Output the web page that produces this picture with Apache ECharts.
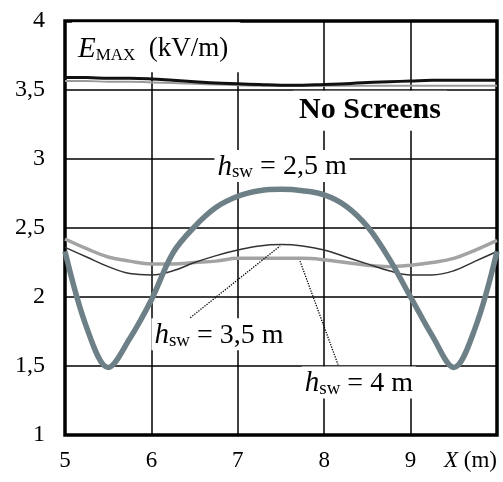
<!DOCTYPE html>
<html><head><meta charset="utf-8">
<script src="https://cdn.jsdelivr.net/npm/echarts@6/dist/echarts.min.js"></script>
<style>html,body{margin:0;padding:0;background:#fff}#c{width:503px;height:482px}</style>
</head><body><div id="c"></div>
<script>
const xs = [5,5.25,5.5,5.75,6,6.25,6.5,6.75,7,7.25,7.5,7.75,8,8.25,8.5,8.75,9,9.25,9.5,9.75,10];
const noScreensBlack = [3.59,3.59,3.585,3.585,3.58,3.57,3.56,3.55,3.545,3.54,3.535,3.535,3.54,3.545,3.555,3.56,3.565,3.57,3.57,3.57,3.57];
const noScreensGray = [3.565,3.565,3.56,3.56,3.555,3.55,3.545,3.54,3.535,3.53,3.53,3.53,3.53,3.53,3.53,3.53,3.53,3.53,3.53,3.53,3.53];
const hsw25 = [2.33,1.78,1.49,1.70,1.98,2.32,2.51,2.65,2.73,2.77,2.78,2.77,2.74,2.66,2.51,2.28,2.0,1.72,1.49,1.78,2.33];
const hsw35 = [2.36,2.29,2.22,2.17,2.16,2.19,2.25,2.30,2.34,2.37,2.38,2.37,2.34,2.29,2.24,2.19,2.16,2.16,2.19,2.26,2.33];
const hsw4  = [2.42,2.35,2.29,2.26,2.24,2.24,2.25,2.26,2.28,2.28,2.28,2.28,2.27,2.25,2.23,2.22,2.23,2.25,2.28,2.34,2.41];
const xTickLabels = ['5','6','7','8','9','{i|X} (m)'];
const pointer35 = [[6.45,1.85],[7.49,2.37]];
const pointer4 = [[7.72,2.26],[8.16,1.51]];

const SERIF = '"Liberation Serif", "Times New Roman", serif';
const pair = (ys) => xs.map((x, i) => [x, ys[i]]);

const chart = echarts.init(document.getElementById('c'), null, {renderer: 'canvas'});
const option = {
  animation: false,
  backgroundColor: '#fff',
  grid: {left: 65, right: 6, top: 21, bottom: 47, show: true, borderColor: '#000', borderWidth: 3.5, backgroundColor: 'transparent'},
  xAxis: {
    type: 'value', min: 5, max: 10, interval: 1,
    axisLine: {show: false}, axisTick: {show: false},
    splitLine: {show: true, lineStyle: {color: '#000', width: 1.5}},
    axisLabel: {
      color: '#000', fontFamily: SERIF, fontSize: 23, margin: 14,
      alignMaxLabel: 'right',
      formatter: (v) => xTickLabels[Math.round(v) - 5],
      rich: {i: {fontStyle: 'italic', fontFamily: SERIF, fontSize: 23, color: '#000'}}
    }
  },
  yAxis: {
    type: 'value', min: 1, max: 4, interval: 0.5,
    axisLine: {show: false}, axisTick: {show: false},
    splitLine: {show: true, lineStyle: {color: '#000', width: 1.5}},
    axisLabel: {color: '#000', fontFamily: SERIF, fontSize: 24, margin: 20,
      formatter: (v) => String(v).replace('.', ',')}
  },
  series: [
    {type: 'line', z: 3, data: pair(noScreensGray), symbol: 'none', smooth: 0.4, lineStyle: {color: '#9a9a9a', width: 2}},
    {type: 'line', z: 3, data: pair(noScreensBlack), symbol: 'none', smooth: 0.4, lineStyle: {color: '#111', width: 3}},
    {type: 'line', z: 3, data: pair(hsw4), symbol: 'none', smooth: 0.4, lineStyle: {color: '#a3a3a3', width: 3.5},
      markLine: {silent: true, symbol: ['none','none'], label: {show: false},
        lineStyle: {type: 'dotted', color: '#000', width: 1.3},
        data: [[{coord: pointer4[0]}, {coord: pointer4[1]}]]}},
    {type: 'line', z: 3, data: pair(hsw35), symbol: 'none', smooth: 0.4, lineStyle: {color: '#333', width: 1.5},
      markLine: {silent: true, symbol: ['none','none'], label: {show: false},
        lineStyle: {type: 'dotted', color: '#000', width: 1.3},
        data: [[{coord: pointer35[0]}, {coord: pointer35[1]}]]}},
    {type: 'line', z: 3, data: pair(hsw25), symbol: 'none', smooth: 0.35, lineStyle: {color: '#6e8087', width: 5.5}}
  ]
};
chart.setOption(option);

function hLabel(val) {
  return {
    text: '{h|h}{s|sw}{t| = ' + val + ' m}',
    rich: {
      h: {fontFamily: SERIF, fontStyle: 'italic', fontSize: 29, lineHeight: 30, fill: '#000'},
      s: {fontFamily: SERIF, fontSize: 19, lineHeight: 12, verticalAlign: 'bottom', fill: '#000'},
      t: {fontFamily: SERIF, fontSize: 28, lineHeight: 30, fill: '#000'}
    }
  };
}
const P = (x, y) => chart.convertToPixel({gridIndex: 0}, [x, y]);
function txt(pos, style, align) {
  return {type: 'text', x: pos[0], y: pos[1], z: 2,
    style: Object.assign({align: align || 'left', verticalAlign: 'middle', backgroundColor: '#fff', padding: [2, 3, 0, 3]}, style)};
}
const pE = P(5.08, 3.81), pNS = P(8.53, 3.35), p25 = P(6.73, 2.95), p35 = P(6.0, 1.73), p4 = P(7.74, 1.38);
chart.setOption({graphic: [
  txt(pE, {
    text: '{e|E}{m|MAX}{t|  (kV/m)}', padding: [12, 12, 8, 6],
    rich: {
      e: {fontFamily: SERIF, fontStyle: 'italic', fontSize: 29, lineHeight: 30, fill: '#000'},
      m: {fontFamily: SERIF, fontSize: 17, lineHeight: 12, verticalAlign: 'bottom', fill: '#000'},
      t: {fontFamily: SERIF, fontSize: 27, lineHeight: 30, fill: '#000'}
    }
  }),
  txt(pNS, {text: 'No Screens', font: 'bold 30px ' + SERIF, fill: '#000', padding: [5, 6, 5, 6]}, 'center'),
  txt(p25, hLabel('2,5')),
  txt(p35, hLabel('3,5')),
  txt(p4, hLabel('4'))
]});
</script>
</body></html>
